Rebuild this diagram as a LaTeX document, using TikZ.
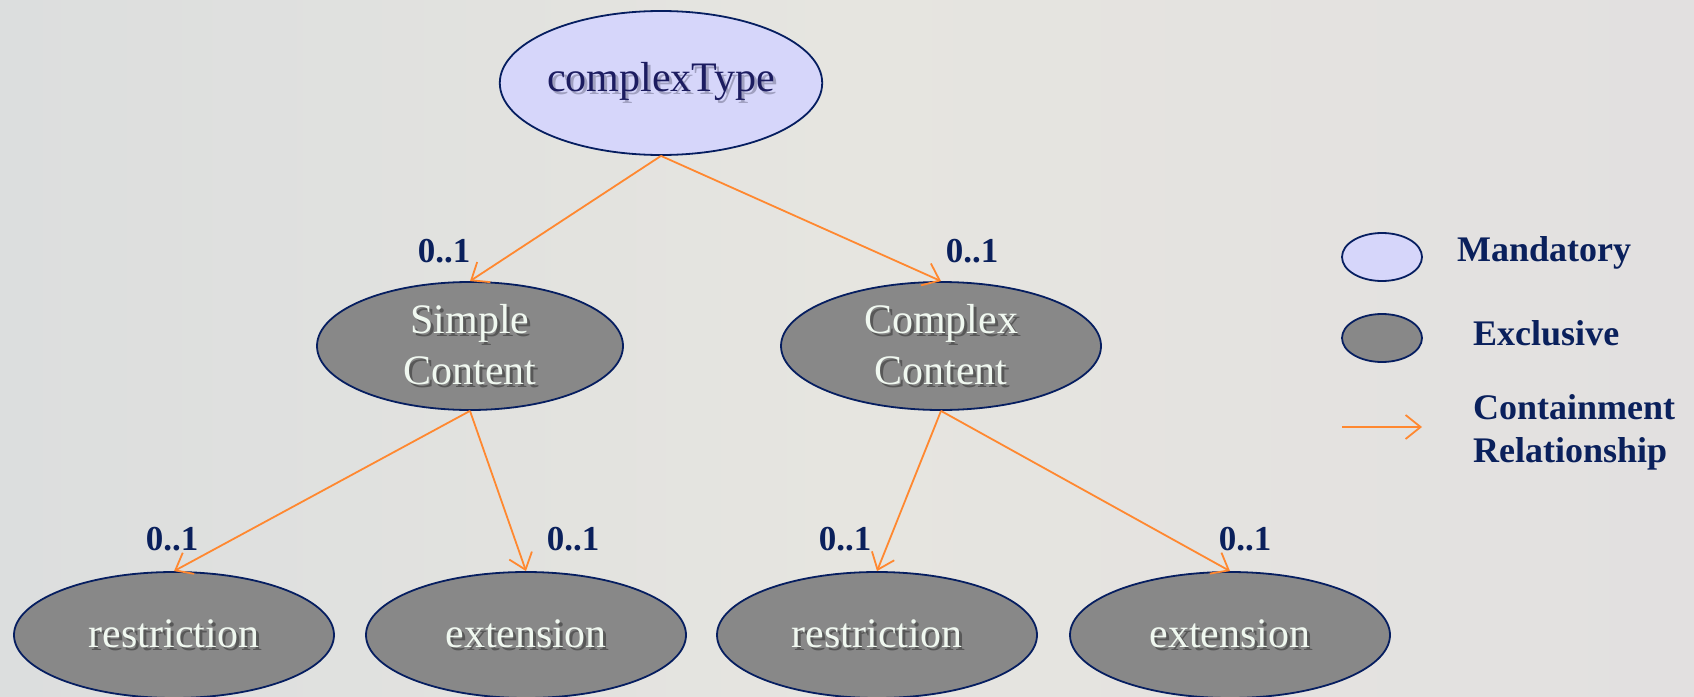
\documentclass[tikz,border=0pt]{standalone}
\usepackage{fontspec}
\setmainfont{Liberation Serif}
\usetikzlibrary{shapes.geometric,arrows.meta}

\definecolor{navy}{RGB}{6,30,96}
\definecolor{labelblue}{RGB}{10,32,92}
\definecolor{typeblue}{RGB}{28,28,96}
\definecolor{mandfill}{RGB}{214,214,250}
\definecolor{exclfill}{RGB}{136,136,136}
\definecolor{relorange}{RGB}{255,136,48}
\definecolor{paletext}{RGB}{240,248,240}
\definecolor{darkshade}{RGB}{88,88,88}
\definecolor{softshade}{RGB}{160,160,192}
\definecolor{bgleft}{RGB}{220,222,222}
\definecolor{bgmid}{RGB}{230,229,224}
\definecolor{bgright}{RGB}{226,224,224}

% text with a drop shadow behind it
\newcommand\shadowtext[2]{\makebox[0pt][l]{\kern3pt\raisebox{-3pt}{\textcolor{#1}{#2}}}#2}

\tikzset{
  mandatory/.style={ellipse, draw=navy, line width=1.8pt, fill=mandfill, inner sep=0pt,
                    text=typeblue, font=\fontsize{42}{51}\selectfont},
  exclusive/.style={ellipse, draw=navy, line width=1.8pt, fill=exclfill, inner sep=0pt,
                    text=paletext, align=center, font=\fontsize{42}{51}\selectfont},
  rel/.style={draw=relorange, line width=1.8pt, -{Straight Barb[length=15pt,width=24pt,line width=1.8pt]}},
  mult/.style={text=labelblue, font=\fontsize{35}{40}\selectfont\bfseries, inner sep=0pt},
  legendtext/.style={text=labelblue, font=\fontsize{36}{43}\selectfont\bfseries, inner sep=0pt, anchor=west, align=left}
}

\begin{document}
\begin{tikzpicture}[x=1pt,y=-1pt]
  % backdrop
  \useasboundingbox (0,0) rectangle (1694,696);
  \shade[left color=bgleft, right color=bgright, middle color=bgmid] (0,0) rectangle (1694,696);

  % tree of element types
  \node[mandatory, minimum width=304pt, minimum height=144pt] (ct) at (661,83)
       {\shadowtext{softshade}{complexType}};

  \node[exclusive, minimum width=306pt, minimum height=128pt] (sc) at (470,346)
       {\shadowtext{darkshade}{Simple}\\\shadowtext{darkshade}{Content}};
  \node[exclusive, minimum width=320pt, minimum height=128pt] (cc) at (941,346)
       {\shadowtext{darkshade}{Complex}\\\shadowtext{darkshade}{Content}};

  \node[exclusive, minimum width=320pt, minimum height=126pt] (r1) at (174,635)
       {\shadowtext{darkshade}{restriction}};
  \node[exclusive, minimum width=320pt, minimum height=126pt] (e1) at (526,635)
       {\shadowtext{darkshade}{extension}};
  \node[exclusive, minimum width=320pt, minimum height=126pt] (r2) at (877,635)
       {\shadowtext{darkshade}{restriction}};
  \node[exclusive, minimum width=320pt, minimum height=126pt] (e2) at (1230,635)
       {\shadowtext{darkshade}{extension}};

  % containment relationships
  \draw[rel] (ct.south) -- (sc.north);
  \draw[rel] (ct.south) -- (cc.north);
  \draw[rel] (sc.south) -- (r1.north);
  \draw[rel] (sc.south) -- (e1.north);
  \draw[rel] (cc.south) -- (r2.north);
  \draw[rel] (cc.south) -- (e2.north);

  % multiplicities
  \node[mult] (m1) at (444,251) {0..1};
  \node[mult] (m2) at (972,251) {0..1};
  \node[mult] (m3) at (172,539) {0..1};
  \node[mult] (m4) at (573,539) {0..1};
  \node[mult] (m5) at (845,539) {0..1};
  \node[mult] (m6) at (1245,539) {0..1};

  % legend
  \node[ellipse, draw=navy, line width=1.8pt, fill=mandfill, minimum width=80pt, minimum height=48pt] (lm) at (1382,257) {};
  \node[ellipse, draw=navy, line width=1.8pt, fill=exclfill, minimum width=80pt, minimum height=48pt] (le) at (1382,338) {};
  \coordinate (la) at (1342,427);
  \coordinate (lb) at (1422,427);
  \draw[rel] (la) -- (lb);

  \node[legendtext] (tm) at (1457,253) {Mandatory};
  \node[legendtext] (te) at (1473,333) {Exclusive};
  \node[legendtext] (tc) at (1473,432) {Containment\\Relationship};
\end{tikzpicture}
\end{document}
